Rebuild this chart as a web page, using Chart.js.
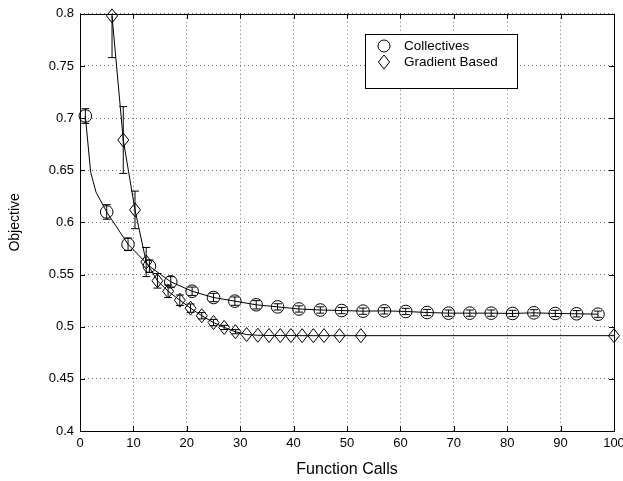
<!DOCTYPE html>
<html lang="en">
<head>
<meta charset="UTF-8">
<title>Objective vs Function Calls</title>
<script src="https://cdn.jsdelivr.net/npm/chart.js"></script>
<style>
    body { margin: 0; padding: 0; background: #fff; }
    #wrap { width: 623px; height: 481px; position: relative; }
</style>
</head>
<body>
<div id="wrap"><canvas id="myChart"></canvas></div>
<script>
// Collectives: one marker every 4 function calls
var collX = [1, 5, 9, 13, 17, 21, 25, 29, 33, 37, 41, 45, 49, 53, 57, 61, 65, 69, 73, 77, 81, 85, 89, 93, 97];
var collY = [0.702, 0.610, 0.579, 0.558, 0.543, 0.534, 0.528, 0.5245, 0.521, 0.519, 0.517, 0.516, 0.5155,
             0.5149, 0.5152, 0.5146, 0.5136, 0.513, 0.513, 0.513, 0.5127, 0.5133, 0.5127, 0.5124, 0.512];
var collErr = [0.007, 0.007, 0.006, 0.006, 0.005, 0.004, 0.004, 0.004, 0.004, 0.003, 0.003, 0.003, 0.003,
               0.003, 0.003, 0.003, 0.003, 0.003, 0.003, 0.003, 0.003, 0.003, 0.003, 0.003, 0.003];
// points on the collectives curve that carry no marker
var collCurveX = [2, 3];
var collCurveY = [0.648, 0.629];

// Gradient based
var gradX = [6, 8.1, 10.3, 12.4, 14.5, 16.5, 18.7, 20.7, 22.8, 25, 27, 29.1, 31.2, 33.3, 35.4, 37.5,
             39.5, 41.6, 43.7, 45.7, 48.6, 52.6, 100];
var gradY = [0.798, 0.679, 0.612, 0.562, 0.544, 0.534, 0.5254, 0.5178, 0.5105, 0.504, 0.4993, 0.4952,
             0.4925, 0.4918, 0.4916, 0.4915, 0.4915, 0.4914, 0.4914, 0.4914, 0.4914, 0.4914, 0.4914];
var gradErr = [0.040, 0.032, 0.018, 0.014, 0.007, 0.006, 0.005, 0.004, 0.003, 0.003, 0.002, 0.002,
               0, 0, 0, 0, 0, 0, 0, 0, 0, 0, 0];

var xTicks = [0, 10, 20, 30, 40, 50, 60, 70, 80, 90, 100];
var yTicks = [0.4, 0.45, 0.5, 0.55, 0.6, 0.65, 0.7, 0.75, 0.8];

var FAMILY = '"Liberation Sans", Arial, sans-serif';
var TICK_FONT = { family: FAMILY, size: 13 };

function pts(xs, ys) {
    return xs.map(function (x, i) { return { x: x, y: ys[i] }; });
}

// collectives line passes through markers plus the unmarked curve points
var collLine = pts(collX, collY).concat(pts(collCurveX, collCurveY))
    .sort(function (a, b) { return a.x - b.x; });

function diamondPath(ctx, x, y) {
    ctx.moveTo(x, y - 7);
    ctx.lineTo(x + 5.5, y);
    ctx.lineTo(x, y + 7);
    ctx.lineTo(x - 5.5, y);
    ctx.closePath();
}

function drawBars(ctx, xs, ys, X, Y, E) {
    for (var i = 0; i < X.length; i++) {
        if (!E[i]) continue;
        var px = xs.getPixelForValue(X[i]);
        var top = ys.getPixelForValue(Y[i] + E[i]);
        var bot = ys.getPixelForValue(Y[i] - E[i]);
        ctx.beginPath();
        ctx.moveTo(px, top); ctx.lineTo(px, bot);
        ctx.moveTo(px - 4, top); ctx.lineTo(px + 4, top);
        ctx.moveTo(px - 4, bot); ctx.lineTo(px + 4, bot);
        ctx.stroke();
    }
}

var errorBars = {
    id: 'errorBars',
    beforeDatasetsDraw: function (chart) {
        var ctx = chart.ctx, a = chart.chartArea;
        ctx.save();
        ctx.beginPath();
        ctx.rect(a.left, a.top, a.right - a.left, a.bottom - a.top);
        ctx.clip();
        ctx.strokeStyle = '#000';
        ctx.lineWidth = 1;
        drawBars(ctx, chart.scales.x, chart.scales.y, collX, collY, collErr);
        drawBars(ctx, chart.scales.x, chart.scales.y, gradX, gradY, gradErr);
        ctx.restore();
    },
    // diamonds drawn at the positions the library computed for dataset 3
    afterDatasetsDraw: function (chart) {
        var ctx = chart.ctx;
        ctx.save();
        ctx.strokeStyle = '#000';
        ctx.lineWidth = 1;
        ctx.beginPath();
        chart.getDatasetMeta(3).data.forEach(function (el) {
            diamondPath(ctx, el.x, el.y);
        });
        ctx.stroke();
        ctx.restore();
    }
};

// box around the axes with inward ticks on every side, then the legend
var frame = {
    id: 'frame',
    afterDraw: function (chart) {
        var ctx = chart.ctx, a = chart.chartArea;
        var xs = chart.scales.x, ys = chart.scales.y;
        ctx.save();
        ctx.strokeStyle = '#000';
        ctx.lineWidth = 1;
        ctx.beginPath();
        xTicks.forEach(function (v) {
            var px = Math.round(xs.getPixelForValue(v)) + 0.5;
            ctx.moveTo(px, a.bottom); ctx.lineTo(px, a.bottom - 5);
            ctx.moveTo(px, a.top); ctx.lineTo(px, a.top + 5);
        });
        yTicks.forEach(function (v) {
            var py = Math.round(ys.getPixelForValue(v)) + 0.5;
            ctx.moveTo(a.left, py); ctx.lineTo(a.left + 5, py);
            ctx.moveTo(a.right, py); ctx.lineTo(a.right - 5, py);
        });
        ctx.stroke();
        ctx.strokeRect(Math.round(a.left) + 0.5, Math.round(a.top) + 0.5,
                       Math.round(a.right - a.left), Math.round(a.bottom - a.top));

        // legend
        ctx.fillStyle = '#fff';
        ctx.fillRect(365, 34, 152, 54);
        ctx.strokeRect(365.5, 34.5, 152, 54);
        ctx.beginPath();
        ctx.arc(384, 46, 6, 0, Math.PI * 2);
        ctx.stroke();
        ctx.beginPath();
        diamondPath(ctx, 384, 62);
        ctx.stroke();
        ctx.fillStyle = '#000';
        ctx.font = '13.5px ' + FAMILY;
        ctx.textBaseline = 'middle';
        ctx.fillText('Collectives', 404, 46);
        ctx.fillText('Gradient Based', 404, 62);
        ctx.restore();
    }
};

var ctx = document.getElementById('myChart').getContext('2d');
var myChart = new Chart(ctx, {
    type: 'scatter',
    data: {
        datasets: [
            {
                label: 'Collectives curve',
                data: collLine,
                showLine: true,
                borderColor: '#000',
                borderWidth: 1,
                pointRadius: 0,
                tension: 0
            },
            {
                label: 'Gradient curve',
                data: pts(gradX, gradY),
                showLine: true,
                borderColor: '#000',
                borderWidth: 1,
                pointRadius: 0,
                tension: 0
            },
            {
                label: 'Collectives',
                data: pts(collX, collY),
                pointStyle: 'circle',
                pointRadius: 6.3,
                borderColor: '#000',
                borderWidth: 1,
                backgroundColor: 'rgba(0,0,0,0)',
                clip: 10
            },
            {
                label: 'Gradient Based',
                data: pts(gradX, gradY),
                pointRadius: 0,
                clip: 10
            }
        ]
    },
    options: {
        responsive: true,
        maintainAspectRatio: false,
        animation: false,
        layout: { padding: { top: 11, right: 9, left: 0, bottom: 0 } },
        plugins: {
            legend: { display: false },
            tooltip: { enabled: false }
        },
        scales: {
            x: {
                type: 'linear',
                min: 0,
                max: 100,
                afterBuildTicks: function (s) { s.ticks = xTicks.map(function (v) { return { value: v }; }); },
                afterFit: function (s) { s.height = 50; s.paddingLeft = 0; s.paddingRight = 0; },
                ticks: { color: '#000', font: TICK_FONT, padding: 5, maxRotation: 0 },
                grid: { color: 'rgba(0,0,0,0.55)', drawTicks: false },
                border: { display: false, dash: [1, 3] },
                title: {
                    display: true, text: 'Function Calls', color: '#000',
                    font: { family: FAMILY, size: 16 }, padding: { top: 0, bottom: 1.5 }
                }
            },
            y: {
                type: 'linear',
                min: 0.4,
                max: 0.8,
                afterBuildTicks: function (s) { s.ticks = yTicks.map(function (v) { return { value: v }; }); },
                afterFit: function (s) { s.width = 80; },
                ticks: {
                    color: '#000', font: TICK_FONT, padding: 6,
                    callback: function (v) { return String(parseFloat(v.toFixed(2))); }
                },
                grid: { color: 'rgba(0,0,0,0.55)', drawTicks: false },
                border: { display: false, dash: [1, 3] },
                title: {
                    display: true, text: 'Objective', color: '#000',
                    font: { family: FAMILY, size: 14 }, padding: { top: 7, bottom: 0 }
                }
            }
        }
    },
    plugins: [errorBars, frame]
});
</script>
</body>
</html>
